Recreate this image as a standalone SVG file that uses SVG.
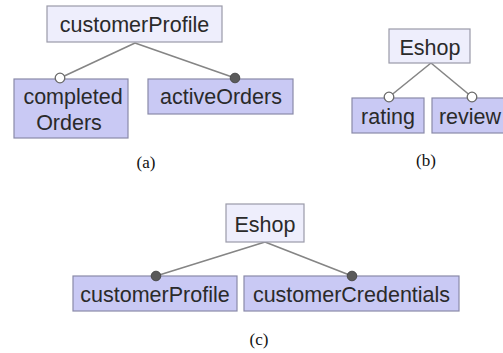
<svg xmlns="http://www.w3.org/2000/svg" width="503" height="353" viewBox="0 0 503 353">
  <style>
    .root { fill: #eeeefc; stroke: #9a9aa8; stroke-width: 1.2; }
    .feat { fill: #c9c9f4; stroke: #8a8aa8; stroke-width: 1.2; }
    .lbl { font-family: "Liberation Sans", Arial, sans-serif; font-size: 21.5px; fill: #2a2a2a; text-anchor: middle; }
    .cap { font-family: "Liberation Serif", "Times New Roman", serif; font-size: 17px; fill: #111; text-anchor: middle; }
    .edge { stroke: #858585; stroke-width: 1.6; fill: none; }
    .opt { fill: #ffffff; stroke: #6a6a6a; stroke-width: 1.3; }
    .mand { fill: #5a5a5a; stroke: #4a4a4a; stroke-width: 1; }
  </style>

  <rect width="503" height="353" fill="#ffffff"/>

  <!-- connectors -->
  <g id="connectors">
    <!-- (a) -->
    <line class="edge" x1="135" y1="43" x2="60" y2="78"/>
    <line class="edge" x1="135" y1="43" x2="235" y2="78"/>
    <!-- (b) -->
    <line class="edge" x1="431" y1="63" x2="389" y2="97"/>
    <line class="edge" x1="431" y1="63" x2="472" y2="97"/>
    <!-- (c) -->
    <line class="edge" x1="265" y1="242" x2="156" y2="276"/>
    <line class="edge" x1="265" y1="242" x2="352" y2="276"/>
  </g>

  <!-- (a) -->
  <g id="a-customerProfile">
    <rect class="root" x="47" y="6" width="175" height="36"/>
    <text class="lbl" x="134.5" y="32">customerProfile</text>
  </g>
  <g id="a-completedOrders">
    <rect class="feat" x="14" y="79" width="114" height="59"/>
    <text class="lbl" x="73" y="104">completed</text>
    <text class="lbl" x="69" y="130">Orders</text>
  </g>
  <g id="a-activeOrders">
    <rect class="feat" x="148" y="79" width="145" height="35"/>
    <text class="lbl" x="221" y="104">activeOrders</text>
  </g>
  <g id="a-markers">
    <circle class="opt" cx="60" cy="78" r="4.8"/>
    <circle class="mand" cx="235" cy="78" r="4.8"/>
  </g>
  <text class="cap" x="146" y="168">(a)</text>

  <!-- (b) -->
  <g id="b-Eshop">
    <rect class="root" x="389" y="29" width="81" height="34"/>
    <text class="lbl" x="430" y="55">Eshop</text>
  </g>
  <g id="b-rating">
    <rect class="feat" x="352" y="98" width="72" height="35"/>
    <text class="lbl" x="388" y="124">rating</text>
  </g>
  <g id="b-review">
    <rect class="feat" x="432" y="98" width="75" height="35"/>
    <text class="lbl" x="470" y="124">review</text>
  </g>
  <g id="b-markers">
    <circle class="opt" cx="389" cy="97" r="4.8"/>
    <circle class="opt" cx="472" cy="97" r="4.8"/>
  </g>
  <text class="cap" x="426" y="166">(b)</text>

  <!-- (c) -->
  <g id="c-Eshop">
    <rect class="root" x="226" y="204" width="78" height="38"/>
    <text class="lbl" x="265" y="232">Eshop</text>
  </g>
  <g id="c-customerProfile">
    <rect class="feat" x="73" y="276" width="164" height="35"/>
    <text class="lbl" x="155" y="302">customerProfile</text>
  </g>
  <g id="c-customerCredentials">
    <rect class="feat" x="244" y="276" width="215" height="35"/>
    <text class="lbl" x="351.5" y="302">customerCredentials</text>
  </g>
  <g id="c-markers">
    <circle class="mand" cx="156" cy="276" r="4.8"/>
    <circle class="mand" cx="352" cy="276" r="4.8"/>
  </g>
  <text class="cap" x="259" y="345">(c)</text>
</svg>
